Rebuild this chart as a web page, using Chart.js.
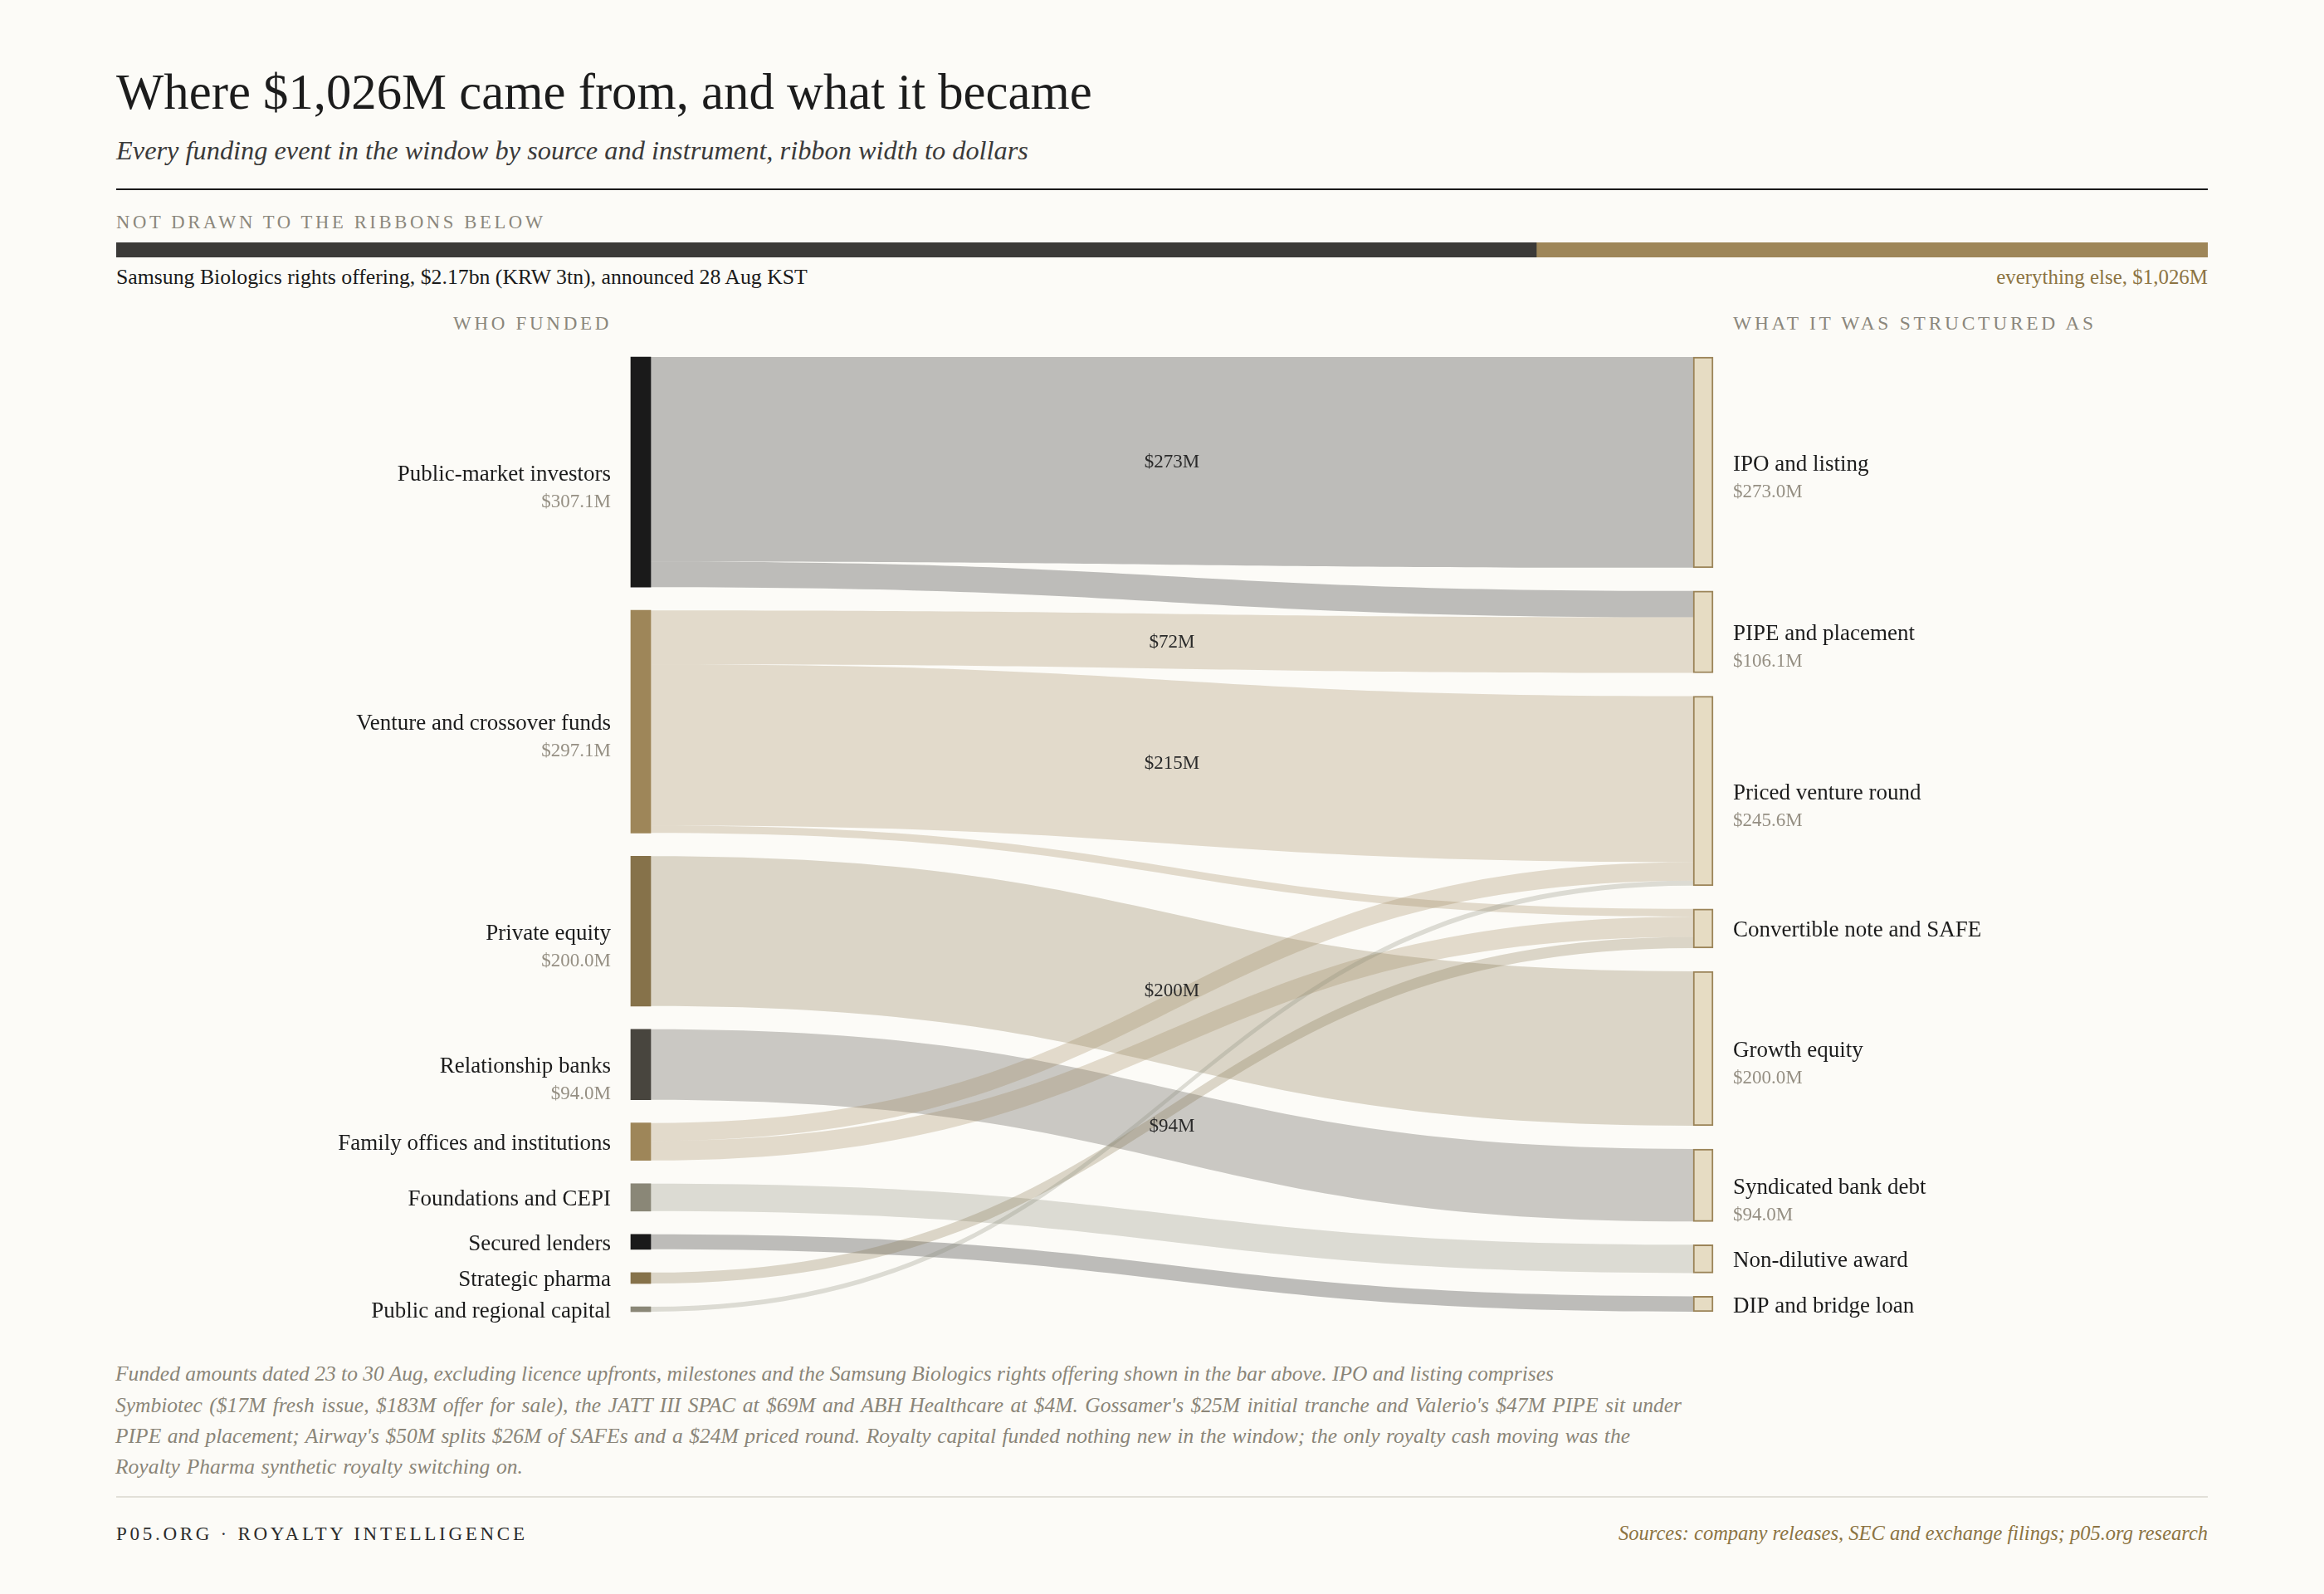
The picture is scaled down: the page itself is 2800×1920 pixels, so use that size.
<!DOCTYPE html>
<html><head><meta charset="utf-8">
<script src="https://cdn.jsdelivr.net/npm/chart.js@4.4.1/dist/chart.umd.min.js"></script>
<style>
html,body{margin:0;padding:0;background:#fcfbf7;}
body{width:2800px;height:1920px;position:relative;overflow:hidden;font-family:"Liberation Serif","DejaVu Serif",serif;}
.t{position:absolute;white-space:nowrap;line-height:1;}
.rule{position:absolute;left:140px;width:2520px;}
#sankey{position:absolute;left:0;top:400px;}
#topbar{position:absolute;left:140px;top:292px;}
</style></head><body>

<div class="t fit" data-x="140" data-b="132" data-w="1176" style="font-size:60px;color:#1c1c1c">Where $1,026M came from, and what it became</div>
<div class="t fit" data-x="140" data-b="192" data-w="1099" style="font-size:34px;color:#3a3a3a;font-style:italic">Every funding event in the window by source and instrument, ribbon width to dollars</div>
<div class="rule" style="top:227px;height:2px;background:#1a1a1a"></div>
<div class="t fit" data-x="140" data-b="276" data-w="518" style="font-size:20px;color:#8b877c;letter-spacing:0.16em">NOT DRAWN TO THE RIBBONS BELOW</div>
<canvas id="topbar" width="2520" height="18"></canvas>
<div class="t fit" data-x="140" data-b="343" data-w="833" style="font-size:24px;color:#1a1a1a">Samsung Biologics rights offering, $2.17bn (KRW 3tn), announced 28 Aug KST</div>
<div class="t fit" data-x="2660" data-a="r" data-b="343" data-w="255" style="font-size:24px;color:#8c7443">everything else, $1,026M</div>
<div class="t fit" data-x="737" data-a="r" data-b="397" data-w="191" style="font-size:21px;color:#8b877c;letter-spacing:0.16em">WHO FUNDED</div>
<div class="t fit" data-x="2088" data-b="398" data-w="438" style="font-size:21px;color:#8b877c;letter-spacing:0.16em">WHAT IT WAS STRUCTURED AS</div>

<canvas id="sankey" width="2800" height="1230"></canvas>

<div class="t fn" data-x="139" data-b="1663" data-w="1733" style="font-size:24px;color:#8a8578;font-style:italic">Funded amounts dated 23 to 30 Aug, excluding licence upfronts, milestones and the Samsung Biologics rights offering shown in the bar above. IPO and listing comprises</div>
<div class="t fn" data-x="139" data-b="1701" data-w="1887" style="font-size:24px;color:#8a8578;font-style:italic">Symbiotec ($17M fresh issue, $183M offer for sale), the JATT III SPAC at $69M and ABH Healthcare at $4M. Gossamer's $25M initial tranche and Valerio's $47M PIPE sit under</div>
<div class="t fn" data-x="139" data-b="1738" data-w="1825" style="font-size:24px;color:#8a8578;font-style:italic">PIPE and placement; Airway's $50M splits $26M of SAFEs and a $24M priced round. Royalty capital funded nothing new in the window; the only royalty cash moving was the</div>
<div class="t fn" data-x="139" data-b="1775" data-w="491" style="font-size:24px;color:#8a8578;font-style:italic">Royalty Pharma synthetic royalty switching on.</div>
<div class="rule" style="top:1802px;height:2px;background:#e2e0d8"></div>
<div class="t fit" data-x="140" data-b="1855" data-w="496" style="font-size:22px;color:#2b2b2b;letter-spacing:0.16em">P05.ORG · ROYALTY INTELLIGENCE</div>
<div class="t fit" data-x="2660" data-a="r" data-b="1856" data-w="710" style="font-size:25px;color:#8c7443;font-style:italic">Sources: company releases, SEC and exchange filings; p05.org research</div>

<script>
// ---------------- DATA ----------------
const sources = ['Public-market investors','Venture and crossover funds','Private equity','Relationship banks','Family offices and institutions','Foundations and CEPI','Secured lenders','Strategic pharma','Public and regional capital'];
const instruments = ['IPO and listing','PIPE and placement','Priced venture round','Convertible note and SAFE','Growth equity','Syndicated bank debt','Non-dilutive award','DIP and bridge loan'];
const flowFrom  = [0,   0,    1,  1,   1,    2,   3,  4,  4,  5,    6,  7,    8];
const flowTo    = [0,   1,    1,  2,   3,    4,   5,  2,  3,  6,    7,  3,    2];
const flowValue = [273, 34.1, 72, 215, 10.1, 200, 94, 24, 26, 36.6, 20, 14.6, 6.6];
const barLabels = ['Samsung Biologics rights offering','everything else'];
const barValues = [2170, 1026];

// ---------------- STYLE ----------------
const sourceColors = ['#1a1a1a','#9e8659','#86724a','#48453e','#9e8659','#8a8777','#1a1a1a','#86724a','#8a8777'];
const ribbonAlpha = 0.28;
const NODE_W = 24, GAP_PX = 28, PLOT_H = 1150, LABEL_PAD = 24;
const FONT = '"Liberation Serif", "DejaVu Serif", serif';

// ---------------- text placement ----------------
function place(el, fs){
  if(fs) el.style.fontSize = fs + 'px';
  const size = parseFloat(el.style.fontSize);
  const w = el.getBoundingClientRect().width;
  const x = +el.dataset.x, b = +el.dataset.b;
  el.style.top = (b - 0.8375*size) + 'px';
  el.style.left = (el.dataset.a === 'r' ? x - w : x) + 'px';
}
document.querySelectorAll('.fit').forEach(el=>{
  let size = parseFloat(el.style.fontSize);
  const w = el.getBoundingClientRect().width;
  size = size * (+el.dataset.w) / w;
  place(el, size);
});
(function(){
  const fns = Array.from(document.querySelectorAll('.fn'));
  let size = parseFloat(fns[0].style.fontSize);
  size = size * (+fns[0].dataset.w) / fns[0].getBoundingClientRect().width;
  fns.forEach(el=>{
    el.style.fontSize = size + 'px';
    const w = el.getBoundingClientRect().width;
    const spaces = (el.textContent.match(/ /g) || []).length;
    const extra = (+el.dataset.w - w) / Math.max(1, spaces);
    el.style.wordSpacing = extra + 'px';
    place(el, size);
  });
})();

function hexA(hex, a){
  const n = parseInt(hex.slice(1),16);
  return `rgba(${(n>>16)&255},${(n>>8)&255},${n&255},${a})`;
}

// ---------------- top bar ----------------
new Chart(document.getElementById('topbar'), {
  type:'bar',
  data:{labels:[''], datasets:[
    {label:barLabels[0], data:[barValues[0]], backgroundColor:'#3b3a38', barPercentage:1, categoryPercentage:1, borderWidth:0},
    {label:barLabels[1], data:[barValues[1]], backgroundColor:'#9e8659', barPercentage:1, categoryPercentage:1, borderWidth:0}
  ]},
  options:{
    indexAxis:'y', responsive:false, animation:false,
    layout:{padding:0},
    plugins:{legend:{display:false}, tooltip:{enabled:false}},
    scales:{
      x:{stacked:true, display:false, min:0, max:barValues[0]+barValues[1]},
      y:{stacked:true, display:false}
    }
  }
});

// ---------------- sankey layout (value space) ----------------
const nL = sources.length, nR = instruments.length;
const srcTot = new Array(nL).fill(0), dstTot = new Array(nR).fill(0);
flowValue.forEach((v,i)=>{ srcTot[flowFrom[i]] += v; dstTot[flowTo[i]] += v; });
const total = srcTot.reduce((a,b)=>a+b,0);
const gapFrac = GAP_PX / PLOT_H;
const gL = gapFrac*total/(1-(nL-1)*gapFrac);
const gR = gapFrac*total/(1-(nR-1)*gapFrac);
const maxL = total + (nL-1)*gL, maxR = total + (nR-1)*gR;
const srcStart = [], dstStart = [];
let acc = 0; srcTot.forEach((v,i)=>{ srcStart[i]=acc; acc += v + gL; });
acc = 0; dstTot.forEach((v,i)=>{ dstStart[i]=acc; acc += v + gR; });

// link offsets
const links = flowValue.map((v,i)=>({s:flowFrom[i], t:flowTo[i], v}));
const sOff = srcStart.slice(), tOff = dstStart.slice();
links.slice().sort((a,b)=>a.s-b.s || a.t-b.t).forEach(l=>{ l.sy = sOff[l.s]; sOff[l.s]+=l.v; });
links.slice().sort((a,b)=>a.t-b.t || a.s-b.s).forEach(l=>{ l.ty = tOff[l.t]; tOff[l.t]+=l.v; });

const sankeyPlugin = {
  id:'sankeyRibbons',
  beforeDatasetsDraw(chart){
    const {ctx, scales} = chart;
    const x = scales.x, yL = scales.yL, yR = scales.yR;
    const x0 = x.getPixelForValue(0) + NODE_W/2, x1 = x.getPixelForValue(1) - NODE_W/2, xm = (x0+x1)/2;
    ctx.save();
    links.forEach(l=>{
      const a = yL.getPixelForValue(l.sy), b = yL.getPixelForValue(l.sy + l.v);
      const c = yR.getPixelForValue(l.ty), d = yR.getPixelForValue(l.ty + l.v);
      ctx.beginPath();
      ctx.moveTo(x0, a);
      ctx.bezierCurveTo(xm, a, xm, c, x1, c);
      ctx.lineTo(x1, d);
      ctx.bezierCurveTo(xm, d, xm, b, x0, b);
      ctx.closePath();
      ctx.fillStyle = hexA(sourceColors[l.s], ribbonAlpha);
      ctx.fill();
    });
    ctx.restore();
  },
  afterDatasetsDraw(chart){
    const {ctx, scales} = chart;
    const x = scales.x, yL = scales.yL, yR = scales.yR;
    const px0 = x.getPixelForValue(0), px1 = x.getPixelForValue(1);
    const x0 = px0 + NODE_W/2, x1 = px1 - NODE_W/2, xm = (x0+x1)/2;
    ctx.save();
    // link value labels
    ctx.font = '23px ' + FONT; ctx.fillStyle = '#2a2a2a'; ctx.textAlign = 'center'; ctx.textBaseline = 'alphabetic';
    links.forEach(l=>{
      if(l.v < 60) return;
      const cl = yL.getPixelForValue(l.sy + l.v/2), cr = yR.getPixelForValue(l.ty + l.v/2);
      ctx.fillText('$' + Math.round(l.v) + 'M', xm, (cl+cr)/2 + 8);
    });
    // node labels
    const drawNode = (name, val, cy, tx, align, h)=>{
      ctx.textAlign = align;
      ctx.font = '27px ' + FONT; ctx.fillStyle = '#1c1c1c';
      ctx.fillText(name, tx, cy + 10);
      if(h > 60){
        ctx.font = '23px ' + FONT; ctx.fillStyle = '#958f83';
        ctx.fillText('$' + val.toFixed(1) + 'M', tx, cy + 42);
      }
    };
    sources.forEach((n,i)=>{
      const t = yL.getPixelForValue(srcStart[i]), b = yL.getPixelForValue(srcStart[i]+srcTot[i]);
      drawNode(n, srcTot[i], (t+b)/2, px0 - NODE_W/2 - LABEL_PAD, 'right', b - t);
    });
    instruments.forEach((n,i)=>{
      const t = yR.getPixelForValue(dstStart[i]), b = yR.getPixelForValue(dstStart[i]+dstTot[i]);
      drawNode(n, dstTot[i], (t+b)/2, px1 + NODE_W/2 + LABEL_PAD, 'left', b - t);
    });
    ctx.restore();
  }
};

new Chart(document.getElementById('sankey'), {
  type:'bar',
  data:{datasets:[
    {label:'Who funded', xAxisID:'x', yAxisID:'yL', grouped:false, clip:false,
     data: sources.map((n,i)=>({x:0, y:[srcStart[i], srcStart[i]+srcTot[i]]})),
     backgroundColor: sourceColors, borderWidth:0, barThickness:NODE_W},
    {label:'Structured as', xAxisID:'x', yAxisID:'yR', grouped:false, clip:false,
     data: instruments.map((n,i)=>({x:1, y:[dstStart[i], dstStart[i]+dstTot[i]]})),
     backgroundColor:'#e6dcc3', borderColor:'#9b8458', borderWidth:2, borderSkipped:false, barThickness:NODE_W}
  ]},
  options:{
    responsive:false, animation:false,
    layout:{padding:{left:772, right:748, top:30, bottom:50}},
    plugins:{legend:{display:false}, tooltip:{enabled:false}},
    scales:{
      x:{type:'linear', display:false, min:0, max:1, offset:false},
      yL:{type:'linear', display:false, reverse:true, min:0, max:maxL, position:'left'},
      yR:{type:'linear', display:false, reverse:true, min:0, max:maxR, position:'right'}
    }
  },
  plugins:[sankeyPlugin]
});
</script>
</body></html>
